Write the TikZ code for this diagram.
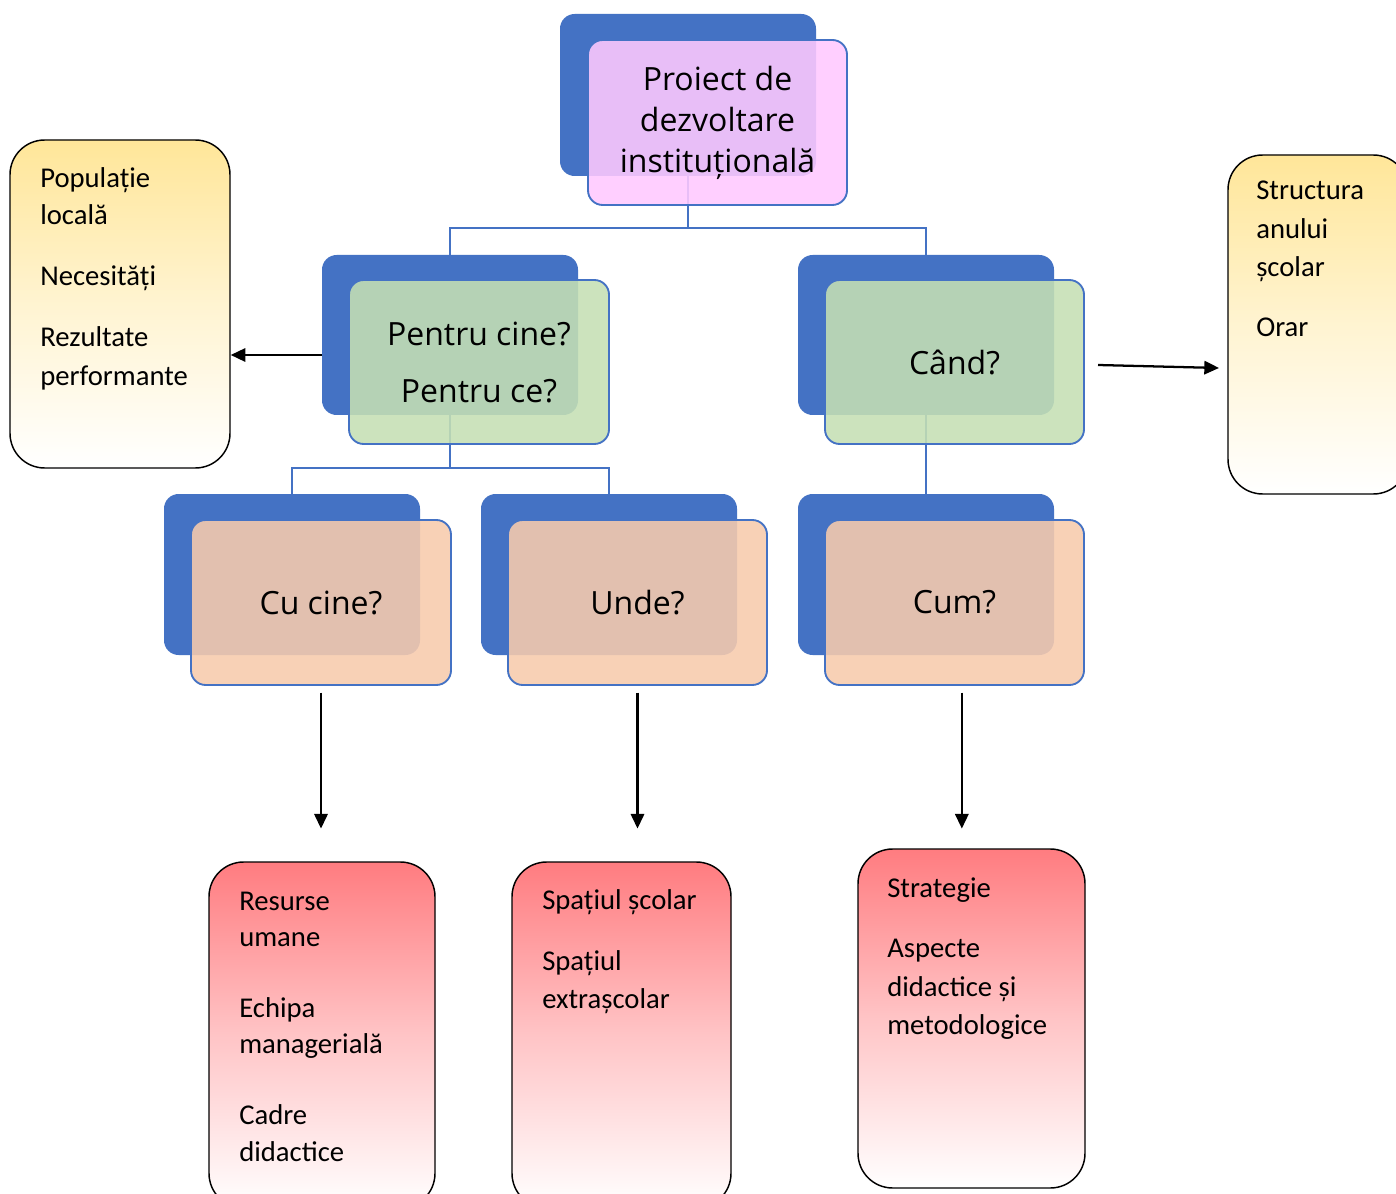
\documentclass[tikz,border=0pt]{standalone}
\usepackage{fontspec}
\setmainfont{Carlito}
\newfontfamily\bigf{Open Sans}
\usetikzlibrary{arrows.meta,fit,calc}
\definecolor{bluem}{HTML}{4472C4}
\definecolor{pinkf}{RGB}{255,201,255}
\definecolor{greenf}{HTML}{C5E0B4}
\definecolor{peachf}{HTML}{F8CBAD}
\definecolor{yelt}{HTML}{FFE699}
\definecolor{redt}{HTML}{FF7C80}
\tikzset{
  backbox/.style={fill=bluem, draw=none, rounded corners=11pt, inner sep=0pt},
  frontbox/.style={draw=bluem, line width=1.4pt, rounded corners=11pt, inner sep=0pt, fill opacity=0.88},
  conn/.style={draw=bluem, line width=1.5pt},
  arr/.style={draw=black, line width=1.7pt, -{Triangle[length=11pt,width=10pt]}},
  infobox/.style={draw=black, line width=1.1pt, rounded corners=26pt, inner sep=0pt},
  yshade/.style={top color=yelt, bottom color=white, middle color=yelt!45!white},
  rshade/.style={top color=redt, bottom color=white, middle color=redt!45!white},
  bigt/.style={font=\bigf\fontsize{24}{30.75}\selectfont, align=center, inner sep=0pt},
  smt/.style={font=\fontsize{21.5}{27}\selectfont, anchor=base west, inner sep=0pt},
}
\begin{document}
\begin{tikzpicture}[x=0.75pt,y=-0.75pt]
\clip (0,0) rectangle (1396,1194);
\fill[white] (0,0) rectangle (1396,1194);
% back boxes
\node[backbox, fit={(560,14)(816,176)}] (topb) {};
\node[backbox, fit={(322,255)(578,415)}] (pentb) {};
\node[backbox, fit={(798,255)(1054,415)}] (candb) {};
\node[backbox, fit={(164,494)(420,655)}] (cucb) {};
\node[backbox, fit={(481,494)(737,655)}] (undeb) {};
\node[backbox, fit={(798,494)(1054,655)}] (cumb) {};
% connectors
\draw[conn] (topb.south) -- ++(0,52) -| (pentb.north);
\draw[conn] (topb.south) -- ++(0,52) -| (candb.north);
\draw[conn] (pentb.south) -- ++(0,53) -| (cucb.north);
\draw[conn] (pentb.south) -- ++(0,53) -| (undeb.north);
\draw[conn] (candb.south) -- (cumb.north);
% front boxes
\node[frontbox, fill=pinkf, fit={(588,40)(847,205)}] (topf) {};
\node[frontbox, fill=greenf, fit={(349,280)(609,444)}] (pentf) {};
\node[frontbox, fill=greenf, fit={(825,280)(1084,444)}] (candf) {};
\node[frontbox, fill=peachf, fit={(191,520)(451,685)}] (cucf) {};
\node[frontbox, fill=peachf, fit={(508,520)(767,685)}] (undef) {};
\node[frontbox, fill=peachf, fit={(825,520)(1084,685)}] (cumf) {};
% big texts
\node[bigt] (toptxt) at (topf.center) {Proiect de\\dezvoltare\\instituțională};
\node[bigt, font=\bigf\fontsize{24}{42.75}\selectfont] (penttxt) at (pentf.center) {Pentru cine?\\Pentru ce?};
\node[bigt] (candtxt) at (candf.center) {Când?};
\node[bigt] (cuctxt) at (cucf.center) {Cu cine?};
\node[bigt] (undetxt) at (undef.center) {Unde?};
\node[bigt] (cumtxt) at (cumf.center) {Cum?};
% info boxes
\node[infobox, yshade, fit={(10,140)(230,468)}] (yl) {};
\node[infobox, yshade, fit={(1228,155)(1408,494)}] (yr) {};
\node[infobox, rshade, fit={(209,862)(435,1208)}] (r1) {};
\node[infobox, rshade, fit={(512,862)(731,1208)}] (r2) {};
\node[infobox, rshade, fit={(858,849)(1085,1188)}] (r3) {};
% info texts
\node[smt] (l1) at (40,188) {Populație};
\node[smt] (l2) at (40,225) {locală};
\node[smt] (l3) at (40,286) {Necesități};
\node[smt] (l4) at (40,347) {Rezultate};
\node[smt] (l5) at (40,386) {performante};
\node[smt] (s1) at (1256,200) {Structura};
\node[smt] (s2) at (1256,239) {anului};
\node[smt] (s3) at (1256,277) {școlar};
\node[smt] (s4) at (1256,337) {Orar};
\node[smt] (a1) at (239,910) {Resurse};
\node[smt] (a2) at (239,946) {umane};
\node[smt] (a3) at (239,1017) {Echipa};
\node[smt] (a4) at (239,1053) {managerială};
\node[smt] (a5) at (239,1124) {Cadre};
\node[smt] (a6) at (239,1161) {didactice};
\node[smt] (b1) at (542,909) {Spațiul școlar};
\node[smt] (b2) at (542,970) {Spațiul};
\node[smt] (b3) at (542,1008) {extrașcolar};
\node[smt] (c1) at (887,897) {Strategie};
\node[smt] (c2) at (887,957) {Aspecte};
\node[smt] (c3) at (887,996) {didactice și};
\node[smt] (c4) at (887,1034) {metodologice};
% arrows
\coordinate (pa) at (322,355);
\draw[arr] (pa) -- (pa -| yl.east);
\coordinate (ca) at (1098,365);
\coordinate (cb) at (1219,368);
\draw[arr] (ca) -- (cb);
\draw[arr] ([yshift=-5pt]cucf.south) -- ++(0,136);
\draw[arr] ([yshift=-5pt]undef.south) -- ++(0,136);
\draw[arr] ([xshift=5.5pt,yshift=-5pt]cumf.south) -- ++(0,136);
\end{tikzpicture}
\end{document}
